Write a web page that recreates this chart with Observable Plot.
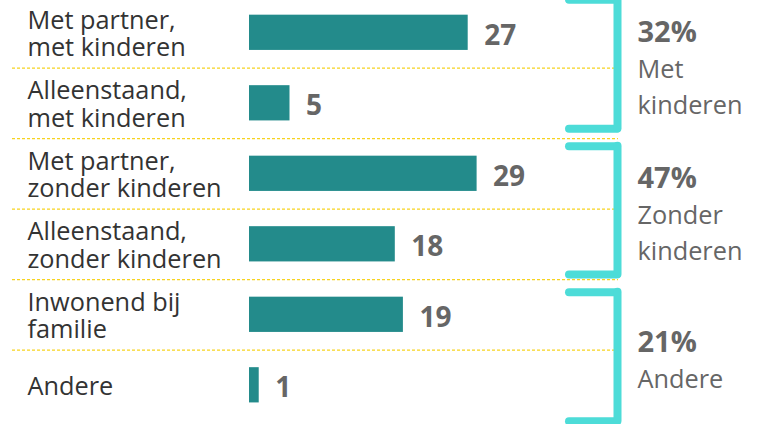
<!DOCTYPE html>
<html><head><meta charset="utf-8">
<script src="https://cdn.jsdelivr.net/npm/d3@7"></script>
<script src="https://cdn.jsdelivr.net/npm/@observablehq/plot@0.6"></script>
<style>html,body{margin:0;padding:0;background:#fff;} #chart svg{display:block}</style>
</head><body><div id="chart"></div>
<script>
// Rows (top to bottom)
const categories = [
  "Met partner,\nmet kinderen",
  "Alleenstaand,\nmet kinderen",
  "Met partner,\nzonder kinderen",
  "Alleenstaand,\nzonder kinderen",
  "Inwonend bij\nfamilie",
  "Andere"
];
const values = [27, 5, 28.1, 18, 19, 1.2];
const valueLabels = ["27", "5", "29", "18", "19", "1"];

// Groups shown with brackets on the right
const groupPercents = ["32%", "47%", "21%"];
const groupNames = ["Met\nkinderen", "Zonder\nkinderen", "Andere"];
// bracket spans, in row units
const bracketFrom = [-0.47, 1.61, 3.68];
const bracketTo = [1.36, 3.43, 5.51];

const rows = categories.map((c, i) => ({row: i, label: c, value: values[i], text: valueLabels[i]}));
const separators = categories.slice(1).map((_, i) => i + 0.5);
const groups = groupPercents.map((p, i) => ({pct: p, name: groupNames[i], from: bracketFrom[i], to: bracketTo[i]}));
const nbLines = s => s.split("\n").length;

const teal = "#238b8b", cyan = "#4ddcd8", yellow = "#f7d31e";
const xMax = 30;

const chart = Plot.plot({
  width: 775,
  height: 424,
  marginLeft: 249,
  marginRight: 283,
  marginTop: 0,
  marginBottom: 0,
  x: {domain: [0, xMax], axis: null},
  y: {domain: [0, 5], range: [32.3, 384.8], axis: null},
  style: {fontFamily: "'Open Sans', sans-serif", background: "#fff"},
  marks: [
    Plot.ruleY(separators, {y: d => d, stroke: yellow, strokeWidth: 1.2, strokeDasharray: "3,2", insetLeft: -237, insetRight: -126}),
    Plot.rect(rows, {x1: 0, x2: "value", y1: d => d.row - 0.25, y2: d => d.row + 0.25, fill: teal}),
    Plot.text(rows, {x: "value", y: "row", text: "text", textAnchor: "start", dx: 16, dy: 3, fontSize: 28, fontWeight: "bold", fill: "#666"}),
    Plot.text(rows, {y: "row", text: "label", frameAnchor: "left", textAnchor: "start", dx: -222, dy: 1, fontSize: 25.3, lineHeight: 1.07, fill: "#333"}),
    Plot.ruleY(groups, {y: "from", stroke: cyan, strokeWidth: 8, strokeLinecap: "round", insetLeft: 320, insetRight: -125}),
    Plot.ruleY(groups, {y: "to", stroke: cyan, strokeWidth: 8, strokeLinecap: "round", insetLeft: 320, insetRight: -125}),
    Plot.ruleX(groups, {x: () => xMax, y1: "from", y2: "to", dx: 125, stroke: cyan, strokeWidth: 8, strokeLinecap: "round"}),
    Plot.text(groups, {y: d => (d.from + d.to) / 2, text: d => d.pct + "\n\u00a0".repeat(nbLines(d.name)), frameAnchor: "right", textAnchor: "start", dx: 145, dy: 2, fontSize: 29, fontWeight: "bold", lineHeight: 36 / 29, fill: "#666"}),
    Plot.text(groups, {y: d => (d.from + d.to) / 2, text: d => "\u00a0\n" + d.name, frameAnchor: "right", textAnchor: "start", dx: 145, dy: 2, fontSize: 25.3, lineHeight: 36 / 25.3, fill: "#666"})
  ]
});
document.getElementById("chart").appendChild(chart);
</script>
</body></html>
